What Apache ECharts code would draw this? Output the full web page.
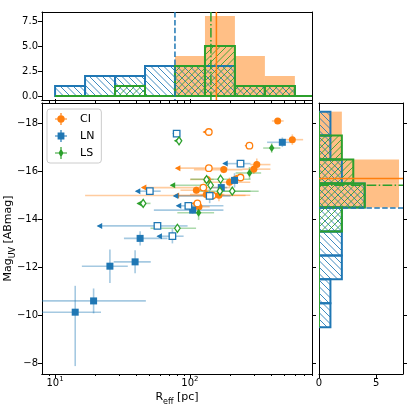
<!DOCTYPE html>
<html>
<head>
<meta charset="utf-8">
<script src="https://cdn.jsdelivr.net/npm/echarts@6/dist/echarts.min.js"></script>
<style>
html, body { margin: 0; padding: 0; background: #fff; }
#chart { width: 415px; height: 415px; }
</style>
</head>
<body>
<div id="chart"></div>
<script>
// ---- data ----
// CI
var ciR      = [447, 574, 313, 297, 178, 134.5, 196.5, 111.5, 164, 132, 116.6, 147, 138, 276, 138, 237, 125.6, 113.5];
var ciMag    = [-18.11, -17.33, -16.29, -16.10, -16.08, -15.67, -15.55, -15.22, -15.01, -15.04, -14.53, -15.00, -17.65, -17.08, -16.14, -15.75, -15.33, -14.67];
var ciRLo    = [405, 510, 280, 245, 107, 100, 126, 85, 120, 100, 95, 16.7, null, null, null, null, null, null];
var ciRHi    = [495, 690, 395, 395, 245, 150, 280, 138, 280, 180, 140, 258, null, null, 190, null, 200, null];
var ciMagErr = [0.1, 0.22, 0.25, 0.2, 0.15, 0.15, 0.2, 0.15, 0.25, 0.2, 0.2, 0, 0, 0, 0, 0, 0, 0];
var ciUL     = [0, 0, 0, 0, 0, 0, 0, 0, 0, 0, 0, 1, 1, 1, 1, 1, 1, 1];
var ciTip    = [null, null, null, null, null, null, null, null, null, null, null, 77, 126, 258, 78.6, 207, 44, 104];
// LN
var lnR      = [484, 214, 170.7, 42.7, 39.2, 25.5, 19.3, 14.1, 104.7, 79.7, 237, 140, 50.4, 97.3, 57.4, 74.1];
var lnMag    = [-17.22, -15.63, -15.33, -13.21, -12.23, -12.05, -10.60, -10.13, -14.39, -17.58, -16.33, -14.98, -15.18, -14.57, -13.73, -13.30];
var lnRLo    = [373, 189, 142, 32.4, 27.2, 15.8, 7.9, 7.9, 54, null, null, null, null, null, null, null];
var lnRHi    = [561, 244, 189, 68.1, 51.2, 34.6, 47.1, 21.9, 177, null, 281, 200, 60.7, 177, 96, 89.7];
var lnMagUp  = [0.2, 0.3, 0.2, 0.3, 0.48, 0.7, 0.52, 1.1, 0.15, 0, 0.15, 0.3, 0, 0, 0, 0.3];
var lnMagDn  = [0.2, 0.3, 0.2, 0.3, 0.48, 0.7, 0.52, 2.25, 0.15, 0, 0.15, 0.3, 0, 0, 0, 0.3];
var lnUL     = [0, 0, 0, 0, 0, 0, 0, 0, 0, 1, 1, 1, 1, 1, 1, 1];
var lnTip    = [null, null, null, null, null, null, null, null, null, 75.3, 176.6, 75.9, 39.7, 79.8, 20.7, 57.4];
// LS
var lsR      = [403.6, 276.3, 115.9, 83.0, 168.6, 142.2, 166.7, 205.8, 45, 80.7, 132.8];
var lsMag    = [-16.98, -15.94, -14.28, -17.28, -15.68, -15.43, -15.18, -15.18, -14.67, -13.63, -15.66];
var lsRLo    = [349, 218, 80.6, null, 101, null, 110, 168.6, null, 51, null];
var lsRHi    = [468, 337, 151, null, 281, null, 281, 323, 51, 111, null];
var lsMagErr = [0.2, 0.25, 0.3, 0, 0, 0, 0, 0, 0, 0.15, 0];
var lsUL     = [0, 0, 0, 1, 1, 1, 1, 1, 1, 1, 1];
var lsTip    = [null, null, null, 77.2, null, 72, null, null, 40.8, null, null];

// histograms
var topEdges     = [10, 16.68, 27.83, 46.42, 77.43, 129.2, 215.4, 359.4, 599.5, 1000];
var ciTopCounts  = [0, 0, 0, 0, 4, 8, 4, 2, 0];
var lnTopCounts  = [1, 2, 2, 3, 3, 3, 1, 1, 0];
var lsTopCounts  = [0, 0, 1, 0, 3, 5, 1, 1, 0];
var sideEdges    = [-18.5, -17.5, -16.5, -15.5, -14.5, -13.5, -12.5, -11.5, -10.5, -9.5];
var ciSideCounts = [2, 2, 7, 7, 0, 0, 0, 0, 0];
var lnSideCounts = [1, 1, 2, 4, 2, 2, 2, 1, 1];
var lsSideCounts = [0, 2, 3, 4, 2, 0, 0, 0, 0];
// medians, order CI, LN, LS
var medianR   = [157, 77.4, 143];
var medianMag = [-15.71, -14.48, -15.43];

// tick values
var rMajor = [10, 100];
var rMinor = [9, 20, 30, 40, 50, 60, 70, 80, 90, 200, 300, 400, 500, 600, 700, 800];
var magTicks = [-18, -16, -14, -12, -10, -8];
var countTicks = [0, 2.5, 5, 7.5];
var sideTicks = [0, 5];

// ---- styles ----
var C = { CI: '#ff7f0e', LN: '#1f77b4', LS: '#2ca02c' };
var LIGHT = { CI: 'rgba(255,127,14,0.4)', LN: 'rgba(31,119,180,0.4)', LS: 'rgba(44,160,44,0.4)' };
var FONT = 'DejaVu Sans';
var AX = { color: '#000', width: 1 };
var xMin = 8.0, xMax = 803, magTop = -18.86, magBot = -7.55;

var groups = {
  CI: { r: ciR, mag: ciMag, lo: ciRLo, hi: ciRHi, up: ciMagErr, dn: ciMagErr, tip: ciTip, ul: ciUL },
  LN: { r: lnR, mag: lnMag, lo: lnRLo, hi: lnRHi, up: lnMagUp, dn: lnMagDn, tip: lnTip, ul: lnUL },
  LS: { r: lsR, mag: lsMag, lo: lsRLo, hi: lsRHi, up: lsMagErr, dn: lsMagErr, tip: lsTip, ul: lsUL }
};

function errRender(key) {
  var g = groups[key];
  return function (params, api) {
    var i = params.dataIndex, r = g.r[i], m = g.mag[i], kids = [];
    var st = { stroke: LIGHT[key], lineWidth: 1.6 };
    var lo = g.lo[i] != null ? g.lo[i] : r, hi = g.hi[i] != null ? g.hi[i] : r;
    if (hi > lo) {
      var a = api.coord([lo, m]), b = api.coord([hi, m]);
      kids.push({ type: 'line', shape: { x1: a[0], y1: a[1], x2: b[0], y2: b[1] }, style: st });
    }
    if (g.up[i] > 0 || g.dn[i] > 0) {
      var c = api.coord([r, m - g.up[i]]), e = api.coord([r, m + g.dn[i]]);
      kids.push({ type: 'line', shape: { x1: c[0], y1: c[1], x2: e[0], y2: e[1] }, style: st });
    }
    if (g.tip[i] != null) {
      var p = api.coord([r, m]), t = api.coord([g.tip[i], m]);
      kids.push({ type: 'line', shape: { x1: p[0], y1: p[1], x2: t[0], y2: t[1] }, style: { stroke: LIGHT[key], lineWidth: 1.6 } });
      kids.push({ type: 'polygon', shape: { points: [[t[0] - 1, t[1]], [t[0] + 4.5, t[1] - 3], [t[0] + 4.5, t[1] + 3]] }, style: { fill: C[key] } });
    }
    return { type: 'group', children: kids };
  };
}

function hatchPath(x0, y0, x1, y1, dir, step) {
  var d = '', c, xs, xe;
  if (dir === '\\') {
    for (c = Math.ceil((y0 - x1) / step) * step; c <= y1 - x0; c += step) {
      xs = Math.max(x0, y0 - c); xe = Math.min(x1, y1 - c);
      if (xe > xs) d += 'M' + xs + ',' + (xs + c) + 'L' + xe + ',' + (xe + c);
    }
  } else {
    for (c = Math.ceil((x0 + y0) / step) * step; c <= x1 + y1; c += step) {
      xs = Math.max(x0, c - y1); xe = Math.min(x1, c - y0);
      if (xe > xs) d += 'M' + xs + ',' + (c - xs) + 'L' + xe + ',' + (c - xe);
    }
  }
  return d;
}

function histRender(edges, counts, opt, horizontal) {
  return function (params, api) {
    var i = params.dataIndex, a, b;
    if (horizontal) { a = api.coord([0, edges[i]]); b = api.coord([counts[i], edges[i + 1]]); }
    else { a = api.coord([edges[i], 0]); b = api.coord([edges[i + 1], counts[i]]); }
    var x0 = Math.min(a[0], b[0]), x1 = Math.max(a[0], b[0]);
    var y0 = Math.min(a[1], b[1]), y1 = Math.max(a[1], b[1]);
    var shape = { x: x0, y: y0, width: x1 - x0, height: y1 - y0 };
    var kids = [];
    if (opt.fill) {
      kids.push({ type: 'rect', shape: shape, style: { fill: opt.fill } });
    }
    if (opt.hatch) {
      var d = hatchPath(x0, y0, x1, y1, opt.hatch, 6.5);
      if (d) kids.push({ type: 'path', shape: { pathData: d }, style: { fill: 'none', stroke: opt.stroke, lineWidth: 1, opacity: 0.85 } });
    }
    if (opt.stroke) {
      kids.push({ type: 'rect', shape: shape, style: { fill: 'none', stroke: opt.stroke, lineWidth: 2 } });
    }
    return { type: 'group', children: kids };
  };
}

var medColors = [C.CI, C.LN, C.LS];
var medDash = [null, [5.5, 2.4], [9.6, 2.4, 1.5, 2.4]];
function medianRender(vals, vertical) {
  return function (params, api) {
    var i = params.dataIndex, cs = params.coordSys, shape;
    if (vertical) {
      var x = api.coord([vals[i], 1])[0];
      shape = { x1: x, y1: cs.y, x2: x, y2: cs.y + cs.height };
    } else {
      var y = api.coord([1, vals[i]])[1];
      shape = { x1: cs.x, y1: y, x2: cs.x + cs.width, y2: y };
    }
    return { type: 'line', shape: shape, style: { stroke: medColors[i], lineWidth: 1.5, lineDash: medDash[i] } };
  };
}

function pts(key, want) {
  var g = groups[key], out = [];
  for (var i = 0; i < g.r.length; i++) if (g.ul[i] === want) out.push([g.r[i], g.mag[i]]);
  return out;
}

function xLog(grid, pos, ticks, len, extra) {
  var a = {
    type: 'log', logBase: 10, gridIndex: grid, position: pos, min: xMin, max: xMax,
    axisLine: { show: true, onZero: false, lineStyle: AX },
    axisTick: ticks ? { show: true, length: len, customValues: ticks, lineStyle: AX } : { show: false },
    axisLabel: { show: false },
    splitLine: { show: false }
  };
  return Object.assign(a, extra || {});
}

function yAx(grid, pos, min, max, inverse, ticks, extra) {
  var a = {
    type: 'value', gridIndex: grid, position: pos, min: min, max: max, inverse: inverse,
    axisLine: { show: true, onZero: false, lineStyle: AX },
    axisTick: ticks ? { show: true, length: 4, customValues: ticks, lineStyle: AX } : { show: false },
    axisLabel: { show: false },
    splitLine: { show: false }
  };
  return Object.assign(a, extra || {});
}

var magLabel = function (v) { return (v < 0 ? '\u2212' : '') + Math.abs(v); };

var chart = echarts.init(document.getElementById('chart'), null, { renderer: 'canvas' });

var series = [];
// top histogram
series.push({ type: 'custom', name: 'ciTop', xAxisIndex: 4, yAxisIndex: 2, clip: true, z: 1,
  data: ciTopCounts.map(function (c, i) { return [topEdges[i], c]; }),
  renderItem: histRender(topEdges, ciTopCounts, { fill: 'rgba(255,127,14,0.5)' }, false) });
series.push({ type: 'custom', name: 'lnTop', xAxisIndex: 4, yAxisIndex: 2, clip: true, z: 2,
  data: lnTopCounts.map(function (c, i) { return [topEdges[i], c]; }),
  renderItem: histRender(topEdges, lnTopCounts, { stroke: C.LN, hatch: '\\' }, false) });
series.push({ type: 'custom', name: 'lsTop', xAxisIndex: 4, yAxisIndex: 2, clip: true, z: 3,
  data: lsTopCounts.map(function (c, i) { return [topEdges[i], c]; }),
  renderItem: histRender(topEdges, lsTopCounts, { stroke: C.LS, hatch: '/' }, false) });
series.push({ type: 'custom', name: 'medTop', xAxisIndex: 4, yAxisIndex: 2, clip: true, z: 4,
  data: medianR.map(function (v) { return [v, 1]; }),
  renderItem: medianRender(medianR, true) });
// side histogram
series.push({ type: 'custom', name: 'ciSide', xAxisIndex: 7, yAxisIndex: 4, clip: true, z: 1,
  data: ciSideCounts.map(function (c, i) { return [c, sideEdges[i]]; }),
  renderItem: histRender(sideEdges, ciSideCounts, { fill: 'rgba(255,127,14,0.5)' }, true) });
series.push({ type: 'custom', name: 'lnSide', xAxisIndex: 7, yAxisIndex: 4, clip: true, z: 2,
  data: lnSideCounts.map(function (c, i) { return [c, sideEdges[i]]; }),
  renderItem: histRender(sideEdges, lnSideCounts, { stroke: C.LN, hatch: '\\' }, true) });
series.push({ type: 'custom', name: 'lsSide', xAxisIndex: 7, yAxisIndex: 4, clip: true, z: 3,
  data: lsSideCounts.map(function (c, i) { return [c, sideEdges[i]]; }),
  renderItem: histRender(sideEdges, lsSideCounts, { stroke: C.LS, hatch: '/' }, true) });
series.push({ type: 'custom', name: 'medSide', xAxisIndex: 7, yAxisIndex: 4, clip: true, z: 4,
  data: medianMag.map(function (v) { return [1, v]; }),
  renderItem: medianRender(medianMag, false) });

// scatter with error bars
var symbols = { CI: 'circle', LN: 'rect', LS: 'path://M0,-5L3,0L0,5L-3,0Z' };
var sizes = { CI: 7, LN: 7, LS: [5.5, 8] };
['CI', 'LN', 'LS'].forEach(function (key, k) {
  var g = groups[key];
  series.push({ type: 'custom', name: key + 'err', xAxisIndex: 0, yAxisIndex: 0, clip: true, z: 3 + k,
    data: g.r.map(function (r, i) { return [r, g.mag[i]]; }),
    renderItem: errRender(key) });
});
['CI', 'LN', 'LS'].forEach(function (key, k) {
  series.push({ type: 'scatter', name: key, xAxisIndex: 0, yAxisIndex: 0, z: 7 + k,
    symbol: symbols[key], symbolSize: sizes[key], data: pts(key, 0),
    itemStyle: { color: C[key], opacity: 1 } });
  series.push({ type: 'scatter', name: key, xAxisIndex: 0, yAxisIndex: 0, z: 7 + k,
    symbol: symbols[key], symbolSize: key === 'LS' ? [5.5, 8] : 6.5, data: pts(key, 1),
    itemStyle: { color: '#fff', borderColor: C[key], borderWidth: 1.3, opacity: 1 } });
});

var crossH = 'M0,5.4H12V6.6H0Z M5.4,0H6.6V12H5.4Z ';

var option = {
  animation: false,
  backgroundColor: '#fff',
  textStyle: { fontFamily: FONT },
  grid: [
    { left: 42, top: 103, width: 270, height: 271, containLabel: false, outerBoundsMode: 'none' },
    { left: 42, top: 12, width: 270, height: 88, containLabel: false, outerBoundsMode: 'none' },
    { left: 319, top: 103, width: 84, height: 271, containLabel: false, outerBoundsMode: 'none' }
  ],
  legend: {
    orient: 'vertical', left: 47, top: 109, padding: [4, 7, 4, 8],
    itemGap: 5, itemWidth: 12, itemHeight: 12,
    backgroundColor: 'rgba(255,255,255,0.8)', borderColor: '#cccccc', borderWidth: 1, borderRadius: 3,
    textStyle: { fontSize: 11, color: '#000', fontFamily: FONT, padding: [0, 0, 0, 8] },
    selectedMode: false,
    data: [
      { name: 'CI', icon: 'path://' + crossH + 'M6,2.3A3.7,3.7,0,1,1,5.99,2.3Z', itemStyle: { color: C.CI } },
      { name: 'LN', icon: 'path://' + crossH + 'M2.6,2.6H9.4V9.4H2.6Z', itemStyle: { color: C.LN } },
      { name: 'LS', icon: 'path://' + crossH + 'M6,1.5L8.5,6L6,10.5L3.5,6Z', itemStyle: { color: C.LS } }
    ]
  },
  xAxis: [
    xLog(0, 'bottom', rMajor, 4, {
      axisLabel: {
        show: true, customValues: rMajor, margin: 2, color: '#000',
        formatter: function (v) {
          var e = v > 5 ? Math.round(Math.log(v) / Math.LN10) : Math.round(v);
          return '{b|10}{s|' + e + '}';
        },
        rich: {
          b: { fontSize: 10, fontFamily: FONT, color: '#000', verticalAlign: 'bottom' },
          s: { fontSize: 7, fontFamily: FONT, color: '#000', verticalAlign: 'bottom', padding: [0, 0, 5, 0] }
        }
      },
      name: '{a|R}{s|eff}{a| [pc]}', nameLocation: 'middle', nameGap: 18, nameMoveOverlap: false,
      nameTextStyle: {
        rich: {
          a: { fontSize: 11, fontFamily: FONT, color: '#000', verticalAlign: 'bottom', padding: [0, 0, 3, 0] },
          s: { fontSize: 8, fontFamily: FONT, color: '#000', verticalAlign: 'bottom' }
        }
      }
    }),
    xLog(0, 'bottom', rMinor, 2),
    xLog(0, 'top', rMajor, 4),
    xLog(0, 'top', rMinor, 2),
    xLog(1, 'bottom', rMajor, 4),
    xLog(1, 'bottom', rMinor, 2),
    xLog(1, 'top', null, 0),
    {
      type: 'value', gridIndex: 2, position: 'bottom', min: 0, max: 7.35,
      axisLine: { show: true, onZero: false, lineStyle: AX },
      axisTick: { show: true, length: 4, customValues: sideTicks, lineStyle: AX },
      axisLabel: { show: true, customValues: sideTicks, margin: 4, fontSize: 10, color: '#000', fontFamily: FONT },
      splitLine: { show: false }
    },
    {
      type: 'value', gridIndex: 2, position: 'top', min: 0, max: 7.35,
      axisLine: { show: true, onZero: false, lineStyle: AX },
      axisTick: { show: false }, axisLabel: { show: false }, splitLine: { show: false }
    }
  ],
  yAxis: [
    yAx(0, 'left', magTop, magBot, true, magTicks, {
      axisLabel: { show: true, customValues: magTicks, margin: 4, fontSize: 10, color: '#000', fontFamily: FONT, formatter: magLabel },
      name: '{a|Mag}{s|UV}{a| [ABmag]}', nameLocation: 'middle', nameGap: 25, nameMoveOverlap: false,
      nameTextStyle: {
        rich: {
          a: { fontSize: 11, fontFamily: FONT, color: '#000', verticalAlign: 'bottom', padding: [0, 0, 3, 0] },
          s: { fontSize: 8, fontFamily: FONT, color: '#000', verticalAlign: 'bottom' }
        }
      }
    }),
    yAx(0, 'right', magTop, magBot, true, magTicks),
    yAx(1, 'left', -0.4, 8.4, false, countTicks, {
      axisLabel: { show: true, customValues: countTicks, margin: 4, fontSize: 10, color: '#000', fontFamily: FONT,
        formatter: function (v) { return v.toFixed(1); } }
    }),
    yAx(1, 'right', -0.4, 8.4, false, null),
    yAx(2, 'left', magTop, magBot, true, null),
    yAx(2, 'right', magTop, magBot, true, magTicks)
  ],
  series: series
};

chart.setOption(option);
</script>
</body>
</html>
